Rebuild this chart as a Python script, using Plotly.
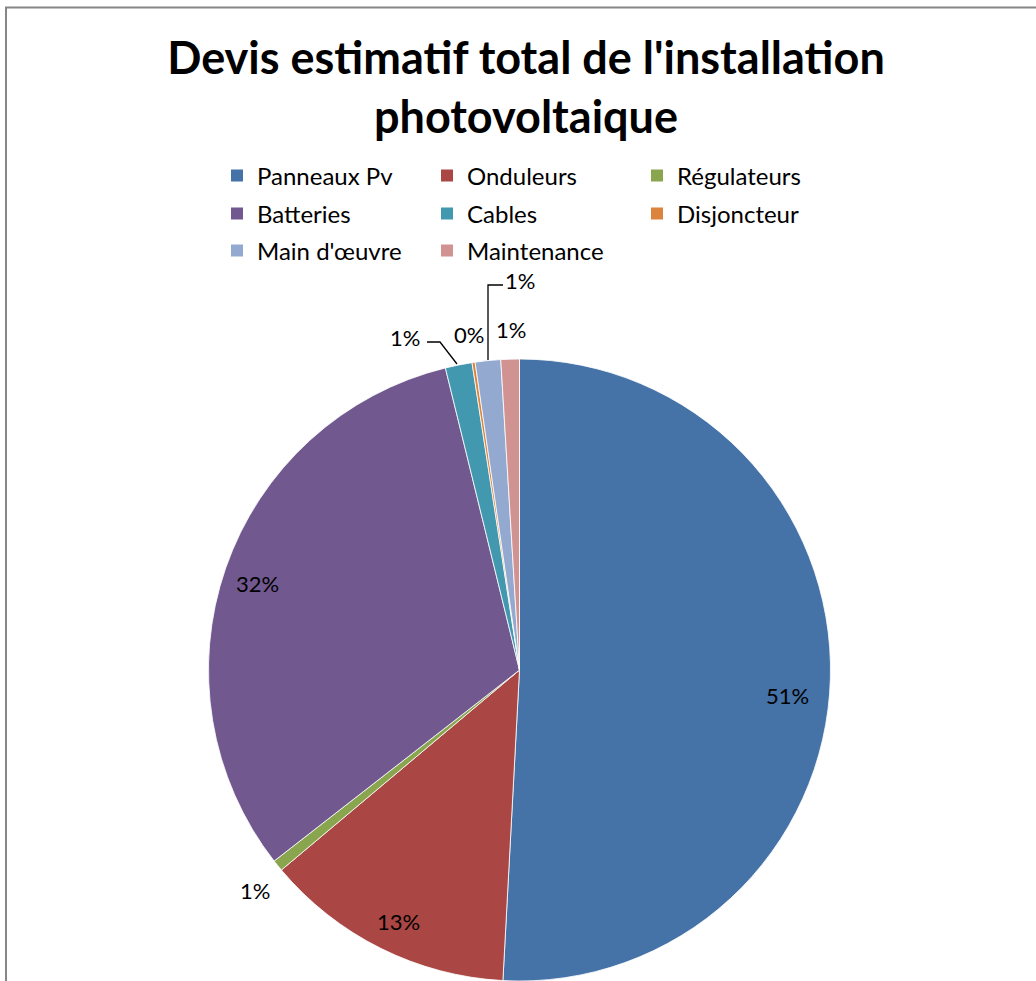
import plotly.graph_objects as go

# ---- data ----
categories = ["Panneaux Pv", "Onduleurs", "Régulateurs", "Batteries",
              "Cables", "Disjoncteur", "Main d'œuvre", "Maintenance"]
shares = [50.85, 13.03, 0.59, 31.70, 1.39, 0.16, 1.32, 0.96]
colors = ["#4572A7", "#AA4643", "#89A54E", "#71588F",
          "#4198AF", "#DB843D", "#93A9CF", "#D19392"]
legend_rows = [[0, 1, 2], [3, 4, 5], [6, 7]]

W, H = 1036, 981
FONT = "Lato"


def px(x, y):
    return x / W, 1 - y / H


total = sum(shares)
pct = [f"{round(v / total * 100):.0f}%" for v in shares]

fig = go.Figure()

# pie centre (519.5, 670) radius 311 px
cx, cy, r = 519.5, 670, 311
fig.add_trace(go.Pie(
    labels=categories, values=shares, sort=False, direction="clockwise",
    rotation=0, textinfo="none", hoverinfo="label+value+percent",
    marker=dict(colors=colors, line=dict(color="white", width=0.8)),
    domain=dict(x=[(cx - r) / W, (cx + r) / W], y=[0, 2 * r / H]),
    showlegend=False,
))

# legend entries (three rows)
legend_names = ["legend", "legend2", "legend3"]
for row_i, row in enumerate(legend_rows):
    for i in row:
        fig.add_trace(go.Scatter(
            x=[None], y=[None], mode="markers", name=categories[i],
            marker=dict(symbol="square", size=12, color=colors[i]),
            legend=legend_names[row_i], showlegend=True,
        ))

row_y = [176, 214, 251]
leg_common = dict(orientation="h", xanchor="left", yanchor="middle",
                  entrywidth=165, entrywidthmode="pixels",
                  bgcolor="rgba(0,0,0,0)", borderwidth=0,
                  font=dict(family=FONT, size=24, color="#000000"))
layout_leg = {}
for k, name in enumerate(legend_names):
    lx, ly = px(217, row_y[k])
    layout_leg[name] = dict(x=lx, y=ly, **leg_common)

# percentage labels (text positions in pixels)
label_pos = [(787, 695), (398, 921), (255, 890), (257, 583),
             (405, 337), (469, 334), (520, 281), (511, 329)]
annotations = []
for i, (x, y) in enumerate(label_pos):
    ax_, ay_ = px(x, y)
    annotations.append(dict(x=ax_, y=ay_, xref="paper", yref="paper",
                            text=pct[i], showarrow=False,
                            xanchor="center", yanchor="middle",
                            font=dict(family=FONT, size=22, color="#000000")))

shapes = []
# leader lines
for pts in ([(427, 342), (440, 342), (457, 364)],
            [(503, 285), (488, 285), (488, 360)]):
    path = "M " + " L ".join(f"{x/W},{1 - y/H}" for x, y in pts)
    shapes.append(dict(type="path", path=path, xref="paper", yref="paper",
                       line=dict(color="#000000", width=1.3)))
# chart-area border
bpath = "M " + " L ".join(f"{x/W},{1 - y/H}" for x, y in [(6, 981), (6, 7.5), (1036, 7.5)])
shapes.append(dict(type="path", path=bpath, xref="paper", yref="paper",
                   line=dict(color="#868686", width=2)))

fig.update_layout(
    width=W, height=H,
    margin=dict(l=0, r=0, t=0, b=0),
    paper_bgcolor="white", plot_bgcolor="white",
    title=dict(text="Devis estimatif total de l'installation<br>photovoltaique",
               x=526 / W, xanchor="center", y=1 - 74 / H, yanchor="middle",
               font=dict(family=FONT, size=45, color="#000000", weight="bold")),
    xaxis=dict(visible=False), yaxis=dict(visible=False),
    annotations=annotations, shapes=shapes,
    **layout_leg,
)

fig.write_html("out.html")
